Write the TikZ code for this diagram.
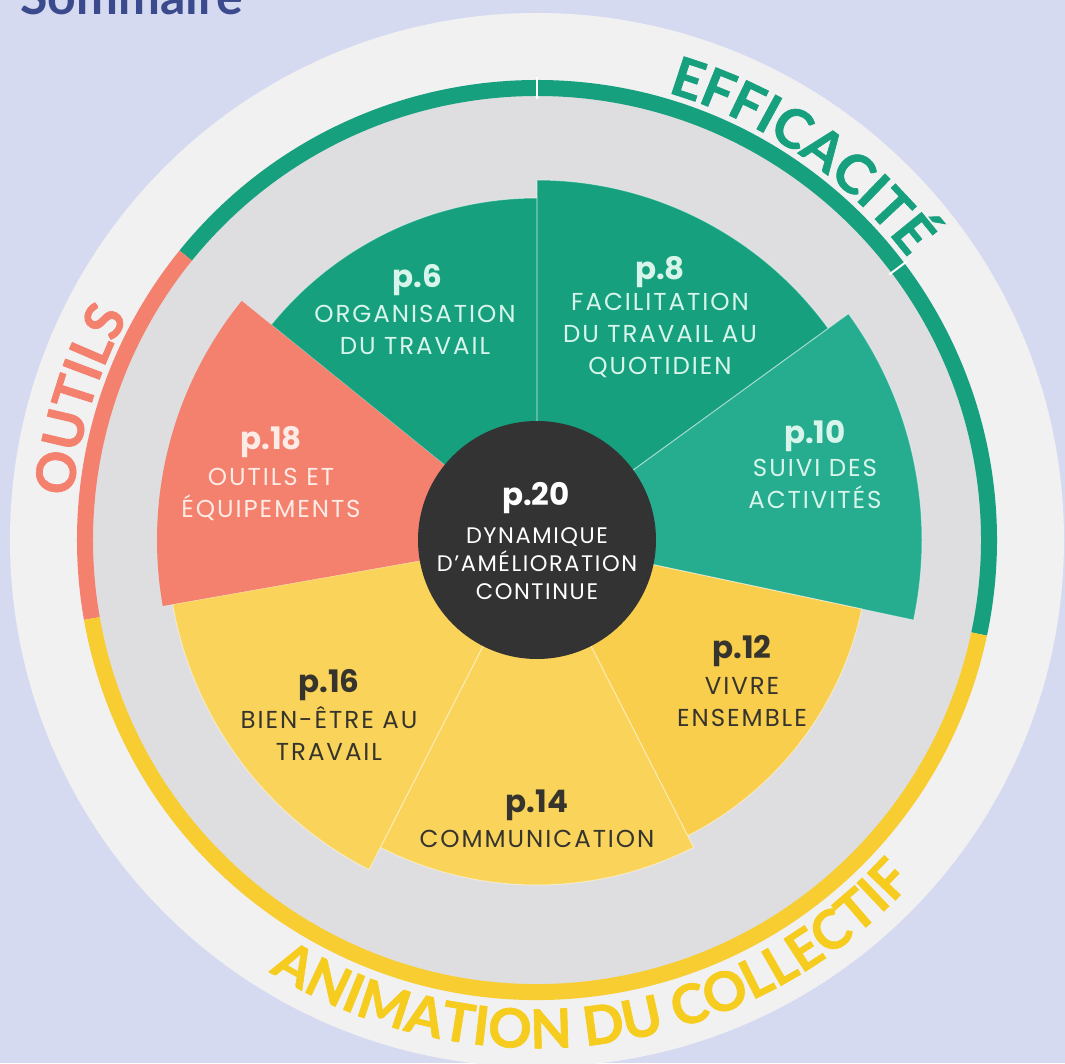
\documentclass[tikz,border=0pt]{standalone}
\usepackage{fontspec}
\setmainfont{Poppins}
\newfontfamily\lblfamily[LetterSpace=8]{Poppins}
\newfontfamily\lblfamilyc[LetterSpace=7]{Poppins}
\newfontfamily\numfamily{Poppins}
\newfontfamily\arcfamily[BoldFeatures={FakeBold=1.2}]{Lato}
\newfontfamily\titlefamily{Lato}
\usetikzlibrary{decorations.text}
\definecolor{bg}{RGB}{214,218,240}
\definecolor{disc}{RGB}{241,241,241}
\definecolor{innergray}{RGB}{222,222,224}
\definecolor{grn}{RGB}{22,160,126}
\definecolor{grnl}{RGB}{38,172,143}
\definecolor{sal}{RGB}{244,128,110}
\definecolor{yel}{RGB}{249,206,76}
\definecolor{yelb}{RGB}{250,212,90}
\definecolor{ringyel}{RGB}{247,205,50}
\definecolor{arcyel}{RGB}{246,204,30}
\definecolor{darkc}{RGB}{51,51,51}
\definecolor{mint}{RGB}{215,245,235}
\definecolor{salt}{RGB}{253,236,230}
\definecolor{titleblue}{RGB}{58,74,140}
\definecolor{darktxt}{RGB}{55,52,45}
\newcommand{\pnumfnt}{\numfamily\fontsize{31}{31}\selectfont\bfseries}
\newcommand{\descfnt}{\lblfamily\fontsize{24.5}{32}\selectfont}
\newcommand{\descfntc}{\lblfamilyc\fontsize{22.5}{28}\selectfont}
\newcommand{\arcfnt}{\arcfamily\fontsize{54}{54}\selectfont\bfseries}
\begin{document}
\begin{tikzpicture}[x=1pt,y=1pt,
  pnum/.style={anchor=base, font=\pnumfnt, inner sep=0pt},
  desc/.style={anchor=base, align=center, font=\descfnt, inner sep=0pt},
  descc/.style={anchor=base, align=center, font=\descfntc, inner sep=0pt},
  sector/.style={draw=white, draw opacity=0.45, line width=1pt},
  ringarc/.style={line width=16pt},
  ringgap/.style={draw=white, line width=2pt}]
% background and bounding box
\fill[bg] (-537,-523) rectangle (528,540);
\path[use as bounding box] (-537,-523) rectangle (528,540);
% title (cut by the top edge)
\node[anchor=base west, inner sep=0pt, text=titleblue,
      font=\titlefamily\fontsize{50}{50}\selectfont\bfseries] (title) at (-517,525) {Sommaire};
% discs
\fill[disc] (0,0) circle[radius=527];
\fill[innergray] (0,0) circle[radius=452];
% ring
\draw[ringarc, grn] (141:452) arc[start angle=141, end angle=-12, radius=452];
\draw[ringarc, sal] (141:452) arc[start angle=141, end angle=190, radius=452];
\draw[ringarc, ringyel] (190:452) arc[start angle=190, end angle=348, radius=452];
\draw[ringgap] (90:441) -- (90:463);
\draw[ringgap] (37:441) -- (37:463);
% sectors
\filldraw[sector, fill=grn] (0,0) -- (90:342) arc[start angle=90, end angle=141, radius=342] -- cycle;
\filldraw[sector, fill=grn] (0,0) -- (36:360) arc[start angle=36, end angle=90, radius=360] -- cycle;
\filldraw[sector, fill=grnl] (0,0) -- (-12:385) arc[start angle=-12, end angle=36, radius=385] -- cycle;
\filldraw[sector, fill=yel] (0,0) -- (-63:332) arc[start angle=-63, end angle=-12, radius=332] -- cycle;
\filldraw[sector, fill=yelb] (0,0) -- (-117:345) arc[start angle=-117, end angle=-63, radius=345] -- cycle;
\filldraw[sector, fill=yelb] (0,0) -- (-170:370) arc[start angle=-170, end angle=-117, radius=370] -- cycle;
\fill[sal] (0,0) -- (141:380) arc[start angle=141, end angle=190, radius=380] -- cycle;
% centre
\fill[darkc] (0,0) circle[radius=119];
% arc texts
\path[decorate, decoration={text along path, text align=center, text color=grn,
   text={|\arcfnt|EFFICACITÉ}}] (100:466) arc[start angle=100, end angle=11, radius=466];
\path[decorate, decoration={text along path, text align=center, text color=sal,
   text={|\arcfnt|OUTILS}}] (208:466) arc[start angle=208, end angle=118, radius=466];
\path[decorate, decoration={text along path, text align=center, text color=arcyel,
   text={|\arcfnt|ANIMATION DU COLLECTIF}}] (-160:508) arc[start angle=-160, end angle=-4, radius=508];
% labels
\node[pnum, text=mint] (n6) at (-120,252) {p.6};
\node[desc, text=mint] (d6) at (-122,185) {ORGANISATION\\DU TRAVAIL};
\node[pnum, text=mint] (n8) at (123,260) {p.8};
\node[desc, text=mint] (d8) at (123,165) {FACILITATION\\DU TRAVAIL AU\\QUOTIDIEN};
\node[pnum, text=mint] (n10) at (278,97) {p.10};
\node[desc, text=mint] (d10) at (278,32) {SUIVI DES\\ACTIVITÉS};
\node[pnum, text=darktxt] (n12) at (205,-118) {p.12};
\node[desc, text=darktxt] (d12) at (205,-186) {VIVRE\\ENSEMBLE};
\node[pnum, text=darktxt] (n14) at (0,-272) {p.14};
\node[desc, text=darktxt] (d14) at (0,-307) {COMMUNICATION};
\node[pnum, text=darktxt] (n16) at (-208,-152) {p.16};
\node[desc, text=darktxt] (d16) at (-208,-220) {BIEN-ÊTRE AU\\TRAVAIL};
\node[pnum, text=salt] (n18) at (-266,91) {p.18};
\node[desc, text=salt] (d18) at (-266,23) {OUTILS ET\\ÉQUIPEMENTS};
\node[pnum, text=white] (n20) at (-1,35) {p.20};
\node[descc, text=white] (d20) at (0,-59) {DYNAMIQUE\\D’AMÉLIORATION\\CONTINUE};
\end{tikzpicture}
\end{document}
